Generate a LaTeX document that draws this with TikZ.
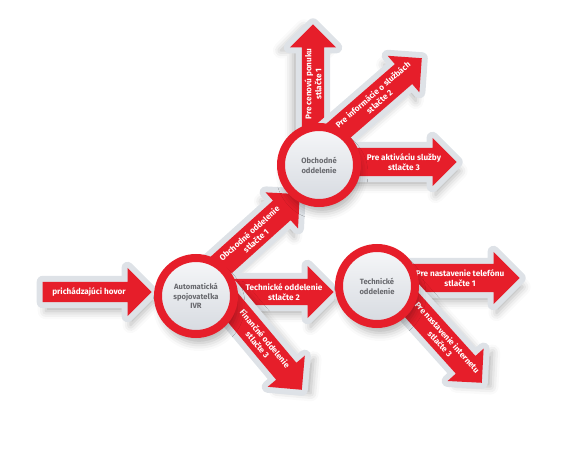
\documentclass[tikz,border=0pt]{standalone}
\usepackage{fontspec}
\setmainfont{Fira Sans}
\usetikzlibrary{shapes.arrows,calc,shadows.blur}

\definecolor{ivrred}{RGB}{230,30,42}
\definecolor{halogrey}{RGB}{222,226,231}
\definecolor{hubgrey}{RGB}{104,105,110}
\definecolor{disctop}{RGB}{246,247,249}
\definecolor{discbottom}{RGB}{214,218,224}

\begin{document}
\begin{tikzpicture}[
    x=1pt, y=1pt,
    font=\fontsize{8.2}{9.8}\selectfont\bfseries,
    % the shadow falls down-right whatever the turn of the arrow
    softshadow/.style={blur shadow={shadow xshift={(3*cos(#1)-9*sin(#1))*1pt},
        shadow yshift={(-3*sin(#1)-9*cos(#1))*1pt}, shadow blur radius=8pt, shadow opacity=30}},
    softshadow/.default=0,
    halo/.style={preaction={draw=halogrey, line width=12pt, line join=round}},
    callarrow/.style n args={3}{single arrow, fill=ivrred, inner xsep=0pt, inner ysep=#1,
        single arrow head extend=#2, single arrow tip angle=90, single arrow head indent=0pt,
        anchor=tip, rotate=#3, softshadow=#3, halo},
    lbl/.style={text=white, align=center, inner sep=0pt},
    hub/.style={circle, draw=ivrred, line width=8pt, minimum size=76pt, inner sep=0pt,
        top color=disctop, bottom color=discbottom, text=hubgrey, align=center,
        font=\fontsize{7.6}{9.8}\selectfont\bfseries, softshadow}
]
\useasboundingbox (0,0) rectangle (579,448);

% arrows leaving the departments
\node[callarrow={11pt}{12pt}{90}, minimum height=150pt] (offer) at (313,424) {};
\node[callarrow={13pt}{11pt}{41}, minimum height=150pt] (services) at (422,390) {};
\node[callarrow={14pt}{10pt}{0}, minimum height=135pt] (activate) at (457,286) {};
\node[callarrow={14pt}{12pt}{0}, minimum height=140pt] (phone) at (520,170) {};
\node[callarrow={13pt}{11pt}{-48}, minimum height=145pt] (internet) at (482,65) {};

% arrows around the IVR
\node[callarrow={10pt}{14pt}{0}, minimum height=109pt] (incall) at (152,156) {};
\node[callarrow={13pt}{11pt}{42}, minimum height=130pt] (toobch) at (300,254) {};
\node[callarrow={13pt}{13pt}{0}, minimum height=130pt] (totech) at (334,156) {};
\node[callarrow={13pt}{11pt}{-50}, minimum height=125pt] (tofin) at (302,58) {};

% texts on the arrows
\node[lbl] (incalltxt) at ($(incall.tip)!63pt!(incall.tail)$) {prichádzajúci hovor};
\node[lbl, rotate=42] (toobchtxt) at ($(toobch.tip)!64pt!(toobch.tail)$) {Obchodné oddelenie\\stlačte 1};
\node[lbl] (totechtxt) at ($(totech.tip)!50pt!(totech.tail)$) {Technické oddelenie\\stlačte 2};
\node[lbl, rotate=-50] (tofintxt) at ($(tofin.tip)!63pt!(tofin.tail)$) {Finančné oddelenie\\stlačte 3};
\node[lbl, rotate=90] (offertxt) at ($(offer.tip)!60pt!(offer.tail)$) {Pre cenovú ponuku\\stlačte 1};
\node[lbl, rotate=41] (servicestxt) at ($(services.tip)!61pt!(services.tail)$) {Pre informácie o službách\\stlačte 2};
\node[lbl] (activatetxt) at ($(activate.tip)!53pt!(activate.tail)$) {Pre aktiváciu služby\\stlačte 3};
\node[lbl] (phonetxt) at ($(phone.tip)!60pt!(phone.tail)$) {Pre nastavenie telefónu\\stlačte 1};
\node[lbl, rotate=-48] (internettxt) at ($(internet.tip)!57pt!(internet.tail)$) {Pre nastavenie internetu\\stlačte 3};

% the three hubs
\node[hub] (ivr) at (196,152) {Automatická\\spojovateľka\\IVR};
\node[hub] (obch) at (319,283) {Obchodné\\oddelenie};
\node[hub] (tech) at (377,162) {Technické\\oddelenie};
\end{tikzpicture}
\end{document}
